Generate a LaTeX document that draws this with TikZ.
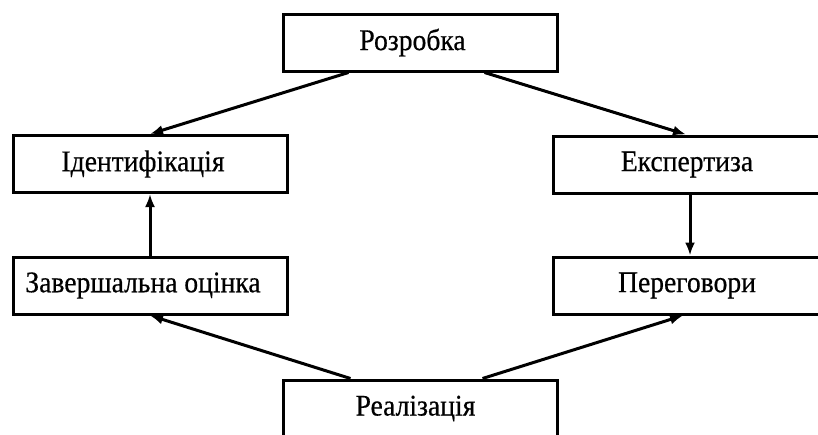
\documentclass[tikz,border=0pt]{standalone}
\usepackage{fontspec}
\setmainfont{Liberation Serif}[FakeStretch=0.92,FakeBold=0.5]
\usetikzlibrary{arrows.meta}
\begin{document}
\begin{tikzpicture}[x=1pt,y=-1pt,
  box/.style={draw, line width=3pt, minimum width=274pt, minimum height=57pt,
    inner sep=0pt, font=\fontsize{30}{34}\selectfont},
  conn/.style={line width=3pt, -{Latex[length=13pt,width=10pt]}}]
\useasboundingbox (0,0) rectangle (818,434);
\clip (0,0) rectangle (818,434);
\fill[white] (0,0) rectangle (818,434);
\node[box] (R) at (420.5,42.5) {Розробка\hspace*{16pt}};
\node[box] (I) at (150,164) {Ідентифікація\hspace*{14pt}};
\node[box] (E) at (690,164.5) {Експертиза\hspace*{6pt}};
\node[box] (Z) at (150,285.5) {Завершальна оцінка\hspace*{14pt}};
\node[box] (P) at (690,285.5) {Переговори\hspace*{6pt}};
\node[box] (L) at (420.5,408.5) {Реалізація\hspace*{10pt}};
\draw[conn] ([xshift=-72pt]R.south) -- (I.north);
\draw[conn] ([xshift=64pt]R.south) -- ([xshift=-4pt]E.north);
\draw[conn] (Z.north) -- (I.south);
\draw[conn] (E.south) -- (P.north);
\draw[conn] ([xshift=-70pt]L.north) -- (Z.south);
\draw[conn] ([xshift=62pt]L.north) -- ([xshift=-7pt]P.south);
\end{tikzpicture}
\end{document}
